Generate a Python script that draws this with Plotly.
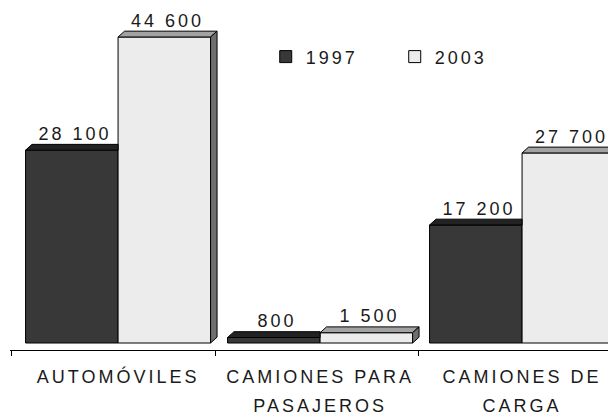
import plotly.graph_objects as go

categories = ["AUTOMÓVILES", "CAMIONES PARA<br>PASAJEROS", "CAMIONES DE<br>CARGA"]
years = ["1997", "2003"]
values_1997 = [28100, 800, 17200]
values_2003 = [44600, 1500, 27700]
labels_1997 = ["28 100", "800", "17 200"]
labels_2003 = ["44 600", "1 500", "27 700"]

BAR_W = 0.458      # width of one bar, in category units
DEPTH_X = 0.032    # 3D depth, category units
DEPTH_Y = 850      # 3D depth, value units
FRONT = {"1997": "#383838", "2003": "#ececec"}
TOP = {"1997": "#222222", "2003": "#a2a2a2"}
SIDE = "#6e6e6e"
INK = "#1a1a1a"
FONT = "Liberation Sans, Arial, sans-serif"

xs = list(range(len(categories)))
fig = go.Figure()

# front faces
for year, vals, off in (("1997", values_1997, -BAR_W), ("2003", values_2003, 0.0)):
    fig.add_trace(go.Bar(
        x=xs, y=vals, width=BAR_W, offset=off, name=year,
        marker={"color": FRONT[year], "line": {"color": "#000000", "width": 1}},
        hoverinfo="skip"))


def poly(px, py, color):
    fig.add_trace(go.Scatter(
        x=px + [px[0]], y=py + [py[0]], mode="lines", fill="toself",
        fillcolor=color, line={"color": "#000000", "width": 1},
        hoverinfo="skip", showlegend=False))


for x, v1, v2 in zip(xs, values_1997, values_2003):
    # 1997 top face, stops at the neighbouring 2003 bar
    l, r = x - BAR_W, x
    poly([l, l + DEPTH_X, r, r], [v1, v1 + DEPTH_Y, v1 + DEPTH_Y, v1], TOP["1997"])
    # 2003 top and side faces
    l, r = x, x + BAR_W
    poly([l, l + DEPTH_X, r + DEPTH_X, r], [v2, v2 + DEPTH_Y, v2 + DEPTH_Y, v2], TOP["2003"])
    poly([r, r + DEPTH_X, r + DEPTH_X, r], [0, DEPTH_Y, v2 + DEPTH_Y, v2], SIDE)

# value labels
lx, ly, lt = [], [], []
for x, v1, v2, t1, t2 in zip(xs, values_1997, values_2003, labels_1997, labels_2003):
    lx += [x - BAR_W / 2 + DEPTH_X / 2, x + BAR_W / 2 + DEPTH_X / 2]
    ly += [v1 + DEPTH_Y, v2 + DEPTH_Y]
    lt += [t1, t2]
fig.add_trace(go.Scatter(
    x=lx, y=ly, text=lt, mode="text", textposition="top center",
    textfont={"family": FONT, "size": 18, "color": INK},
    cliponaxis=False, hoverinfo="skip", showlegend=False))

# page body has an 8px margin, so the figure is 8px smaller than the window
fig.update_layout(
    width=608, height=411,
    margin={"l": 2, "r": 0, "t": 0, "b": 69},
    plot_bgcolor="white", paper_bgcolor="white",
    barmode="overlay",
    font={"family": FONT, "size": 18, "color": INK},
    legend={"orientation": "h", "x": 0.422, "y": 0.857, "xanchor": "left",
            "yanchor": "middle", "font": {"size": 18}, "entrywidth": 84,
            "bgcolor": "rgba(0,0,0,0)"},
    xaxis={"range": [-0.535, 2.465], "tickvals": xs, "ticktext": categories,
           "ticks": "", "showgrid": False, "zeroline": False,
           "showline": True, "linecolor": "#000000", "linewidth": 1,
           "ticklabelstandoff": 10,
           "minor": {"tickvals": [-0.53, 0.48, 1.485], "ticks": "outside",
                     "ticklen": 5, "tickcolor": "#000000", "showgrid": False},
           "tickfont": {"size": 18}},
    yaxis={"range": [-1020, 48826], "visible": False},
)

# wide letter spacing and looser line spacing of the original lettering
spacing_js = """
var gd = document.getElementById('{plot_id}');
gd.querySelectorAll('.xtick text, text.legendtext, .textpoint text').forEach(function(t) {
    t.style.letterSpacing = '3px';
});
gd.querySelectorAll('.xtick tspan.line').forEach(function(t) {
    if (t.getAttribute('dy') === '1.3em') { t.setAttribute('dy', '1.65em'); }
});
"""

fig.write_html("out.html", post_script=spacing_js)
